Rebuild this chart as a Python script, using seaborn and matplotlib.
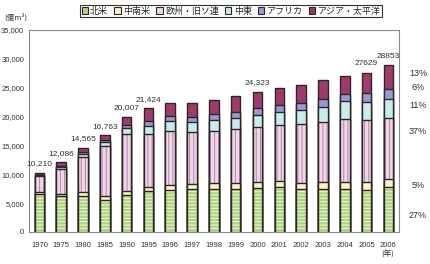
import matplotlib
matplotlib.use("Agg")
import matplotlib.pyplot as plt
import seaborn as sns
import numpy as np
import pandas as pd
from matplotlib.patches import Patch

years = ["1970", "1975", "1980", "1985", "1990", "1995", "1996", "1997", "1998",
         "1999", "2000", "2001", "2002", "2003", "2004", "2005", "2006"]
regions = ["北米", "中南米", "欧州・旧ソ連", "中東", "アフリカ", "アジア・太平洋"]
north_america = [6650, 6200, 6300, 5550, 6400, 7100, 7280, 7400, 7450, 7500, 7680, 7800, 7510, 7510, 7510, 7280, 7750]
latin_america = [350, 450, 650, 700, 700, 750, 870, 860, 990, 940, 930, 980, 1040, 1210, 1210, 1440, 1400]
europe_fsu = [2650, 4300, 6100, 8650, 9900, 9080, 9350, 9020, 9120, 9410, 9640, 9710, 10170, 10400, 10810, 10690, 10650]
middle_east = [150, 300, 450, 650, 1000, 1490, 1740, 1840, 1850, 1960, 2030, 2360, 2420, 2600, 3230, 3180, 3250]
africa = [60, 100, 300, 350, 550, 810, 860, 760, 1060, 930, 1150, 1160, 1270, 1280, 1160, 1560, 1750]
asia_pacific = [350, 736, 765, 863, 1457, 2194, 2200, 2420, 2410, 2830, 2893, 3000, 3070, 3340, 3170, 3479, 4053]
total_labels = {"1970": "10,210", "1975": "12,086", "1980": "14,565", "1985": "16,763",
                "1990": "20,007", "1995": "21,424", "2000": "24,323", "2005": "27629",
                "2006": "28853"}
share_2006 = ["13%", "6%", "11%", "37%", "5%", "27%"]

series = [north_america, latin_america, europe_fsu, middle_east, africa, asia_pacific]
fills = ["#aed67e", "#fbf5c4", "#efd6ea", "#c9ecea", "#9a98d8", "#9e3a6c"]
hatches = ["-----", None, "||||", None, None, None]
hatch_cols = ["#eef7e2", None, "#b384ab", None, None, None]
edge = "#2e2626"
num_font = ["Liberation Sans", "DejaVu Sans"]

sns.set_style("white")
plt.rcParams["font.family"] = ["Noto Sans CJK JP", "DejaVu Sans"]
plt.rcParams["hatch.linewidth"] = 0.7

fig = plt.figure(figsize=(4.31, 2.64), dpi=100)
ax = fig.add_axes([29 / 431, 1 - 232 / 264, 370 / 431, 202 / 264])

cum = np.cumsum(np.array(series), axis=0)
df = pd.DataFrame({"year": years})
for i in range(len(series) - 1, -1, -1):
    df["v"] = cum[i]
    if hatches[i]:
        sns.barplot(data=df, x="year", y="v", color=fills[i], saturation=1, width=0.44,
                    hatch=hatches[i], edgecolor=hatch_cols[i], linewidth=0, ax=ax)
    else:
        sns.barplot(data=df, x="year", y="v", color=fills[i], saturation=1, width=0.44,
                    linewidth=0, ax=ax)
    sns.barplot(data=df, x="year", y="v", fill=False, saturation=1, width=0.44,
                edgecolor=edge, linewidth=1.0, ax=ax)

totals = cum[-1]
for j, y in enumerate(years):
    if y in total_labels:
        ax.annotate(total_labels[y], (j, totals[j]), xytext=(0, 4), textcoords="offset points",
                    ha="center", va="bottom", fontsize=6, color="#333333",
                    family=num_font)

ax.set_xlim(-0.48, len(years) - 0.51)
ax.set_ylim(0, 35000)
ax.set_yticks(np.arange(0, 35001, 5000))
ax.set_yticklabels([f"{v:,}" for v in range(0, 35001, 5000)], fontsize=5.5, color="#333333",
                   family=num_font)
ax.set_xticks(range(len(years)))
ax.set_xticklabels(years, fontsize=5.5, color="#333333", family=num_font)
ax.set_xticks(np.arange(0.5, len(years) - 1, 1), minor=True)
ax.tick_params(axis="x", which="major", length=0, pad=7)
ax.tick_params(axis="x", which="minor", length=2, color="#888888", direction="out")
ax.tick_params(axis="y", which="major", length=2, color="#888888", pad=1.5)
ax.set_xlabel("")
ax.set_ylabel("")
for s in ax.spines.values():
    s.set_color("#8a8a8a")
    s.set_linewidth(0.8)

fig.text(4 / 431, 1 - 17 / 264, "(億m³)", fontsize=5.5, color="#333333", va="center")
fig.text(388 / 431, 1 - 255 / 264, "(年)", fontsize=5.5, color="#333333", va="center", ha="center")

share_y = [73, 88, 106, 131, 186, 215]
for s, yy in zip(share_2006, share_y):
    fig.text(418 / 431, 1 - yy / 264, s, fontsize=6.5, color="#333333", ha="center", va="center",
             family=num_font)

handles = [Patch(facecolor=fills[i], edgecolor=edge, linewidth=0.8) for i in range(len(regions))]
leg = fig.legend(handles, regions, loc="center", bbox_to_anchor=(231 / 431, 1 - 11 / 264), ncol=6,
                 fontsize=6.5, frameon=True, fancybox=False, edgecolor="#000000",
                 handlelength=0.7, handleheight=0.7, handletextpad=0.25, columnspacing=0.7,
                 borderpad=0.2, borderaxespad=0)
leg.get_frame().set_linewidth(0.8)

fig.savefig("out.png", dpi=100)
